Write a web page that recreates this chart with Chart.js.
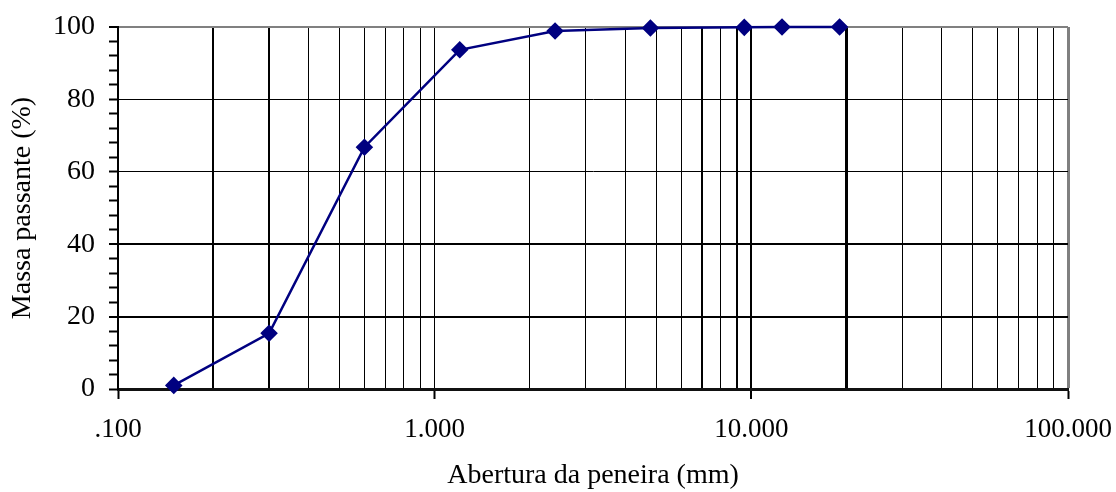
<!DOCTYPE html>
<html>
<head>
<meta charset="utf-8">
<script src="https://cdn.jsdelivr.net/npm/chart.js@4/dist/chart.umd.min.js"></script>
<style>
  html, body { margin: 0; padding: 0; background: #fff; }
  #wrap { width: 1116px; height: 492px; }
</style>
</head>
<body>
<div id="wrap"><canvas id="granChart" width="1116" height="492"></canvas></div>
<script>
// sieve opening (mm) and cumulative % passing
const aberturas = [0.15, 0.3, 0.6, 1.2, 2.4, 4.8, 9.5, 12.5, 19];
const passante = [1, 15.4, 66.8, 93.7, 98.9, 99.7, 99.9, 100, 100];

const xMajorValues = [0.1, 1, 10, 100];
const xMajorLabels = ['.100', '1.000', '10.000', '100.000'];
const yLabelValues = [0, 20, 40, 60, 80, 100];

// grid lines that look heavier in the original scan
const xHeavy = [0.2, 0.3, 7, 9, 10, 20];
const yHeavy = [20, 40];

const near = (a, b) => Math.abs(a - b) < 1e-6 * Math.max(1, Math.abs(b));
const inList = (list, v) => list.some(x => near(x, v));

const serif = "'Liberation Serif', 'Times New Roman', serif";

new Chart(document.getElementById('granChart').getContext('2d'), {
    type: 'line',
    data: {
        datasets: [
            {
                data: aberturas.map((x, i) => ({ x: x, y: passante[i] })),
                borderColor: '#000080',
                backgroundColor: '#000080',
                borderWidth: 2.5,
                pointStyle: 'rectRot',
                pointRadius: 7,
                pointHoverRadius: 7,
                tension: 0,
                clip: false,
            },
        ],
    },
    options: {
        responsive: false,
        animation: false,
        layout: { padding: { top: 27, right: 48, left: 2, bottom: 0 } },
        plugins: {
            legend: { display: false },
            tooltip: { enabled: false },
        },
        scales: {
            x: {
                type: 'logarithmic',
                min: 0.1,
                max: 100,
                afterBuildTicks: (scale) => {
                    const ticks = [];
                    for (let d = 0; d < xMajorValues.length - 1; d++) {
                        for (let m = 1; m < 10; m++) {
                            ticks.push({ value: xMajorValues[d] * m });
                        }
                    }
                    ticks.push({ value: xMajorValues[xMajorValues.length - 1] });
                    scale.ticks = ticks;
                },
                afterFit: (scale) => {
                    scale.height = 103;
                    scale.paddingLeft = 0;
                    scale.paddingRight = 0;
                },
                ticks: {
                    autoSkip: false,
                    maxRotation: 0,
                    padding: 15,
                    color: '#000',
                    font: { family: serif, size: 27 },
                    callback: (value) => {
                        const i = xMajorValues.findIndex(v => near(v, value));
                        return i >= 0 ? xMajorLabels[i] : '';
                    },
                },
                grid: {
                    color: (ctx) => {
                        const v = ctx.tick ? ctx.tick.value : null;
                        return v !== null && near(v, 100) ? '#808080' : '#000';
                    },
                    lineWidth: (ctx) => {
                        const v = ctx.tick ? ctx.tick.value : null;
                        if (v === null) return 1;
                        if (near(v, 100)) return 3;
                        if (near(v, 20)) return 3;
                        return inList(xHeavy, v) ? 2 : 1;
                    },
                    tickColor: (ctx) => {
                        const v = ctx.tick ? ctx.tick.value : null;
                        return v !== null && inList(xMajorValues, v) ? '#000' : 'rgba(0,0,0,0)';
                    },
                    tickLength: 10,
                    tickWidth: 2,
                },
                border: { color: '#111', width: 3 },
                title: {
                    display: true,
                    text: 'Abertura da peneira (mm)',
                    color: '#000',
                    font: { family: serif, size: 28 },
                    padding: { top: 0, bottom: 0 },
                },
            },
            y: {
                min: 0,
                max: 100,
                afterFit: (scale) => {
                    scale.width = 116;
                    scale.paddingTop = 0;
                    scale.paddingBottom = 0;
                },
                ticks: {
                    stepSize: 4,
                    autoSkip: false,
                    padding: 14,
                    color: '#000',
                    font: { family: serif, size: 28 },
                    callback: (value) => inList(yLabelValues, value) ? String(value) : '',
                },
                grid: {
                    color: (ctx) => {
                        const v = ctx.tick ? ctx.tick.value : null;
                        if (v === null) return '#000';
                        if (near(v, 100)) return '#808080';
                        return inList(yLabelValues, v) ? '#000' : 'rgba(0,0,0,0)';
                    },
                    lineWidth: (ctx) => {
                        const v = ctx.tick ? ctx.tick.value : null;
                        if (v === null) return 1;
                        if (near(v, 100)) return 2;
                        return inList(yHeavy, v) ? 2 : 1;
                    },
                    tickColor: '#000',
                    tickLength: 9,
                    tickWidth: 2,
                },
                border: { color: '#000', width: 2 },
                title: {
                    display: true,
                    text: 'Massa passante (%)',
                    color: '#000',
                    font: { family: serif, size: 28 },
                    padding: { top: 4, bottom: 4 },
                },
            },
        },
    },
});
</script>
</body>
</html>
